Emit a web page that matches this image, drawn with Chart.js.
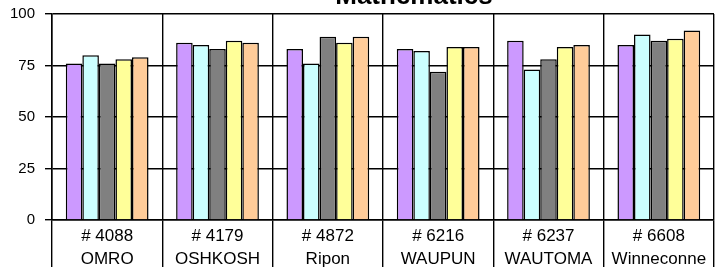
<!DOCTYPE html>
<html>
<head>
<meta charset="utf-8">
<script src="https://cdn.jsdelivr.net/npm/chart.js@4/dist/chart.umd.min.js"></script>
<style>
  html, body { margin: 0; padding: 0; background: #fff; }
  #wrap { width: 723px; height: 267px; }
</style>
</head>
<body>
<div id="wrap"><canvas id="mathChart"></canvas></div>
<script>
// data
const schools = [
    ['# 4088', 'OMRO'],
    ['# 4179', 'OSHKOSH'],
    ['# 4872', 'Ripon'],
    ['# 6216', 'WAUPUN'],
    ['# 6237', 'WAUTOMA'],
    ['# 6608', 'Winneconne']
];
const series1 = [76, 86, 83, 83, 87, 85];
const series2 = [80, 85, 76, 82, 73, 90];
const series3 = [76, 83, 89, 72, 78, 87];
const series4 = [78, 87, 86, 84, 84, 88];
const series5 = [79, 86, 89, 84, 85, 92];
const yTicks = [0, 25, 50, 75, 100];

const colors = ['#CC99FF', '#CCFFFF', '#808080', '#FFFF99', '#FFCC99'];
const allSeries = [series1, series2, series3, series4, series5];

// title sits partly above the canvas in the original
const titlePlugin = {
    id: 'cutTitle',
    afterDraw(chart) {
        const c = chart.ctx;
        c.save();
        c.font = 'bold 26px "Liberation Sans", Arial, sans-serif';
        c.fillStyle = '#000';
        c.textAlign = 'center';
        c.textBaseline = 'alphabetic';
        c.fillText('Mathematics', 414, 4);
        c.restore();
    }
};

const ctx = document.getElementById('mathChart').getContext('2d');
new Chart(ctx, {
    type: 'bar',
    data: {
        labels: schools,
        datasets: allSeries.map(function (vals, i) {
            return {
                label: 'Series ' + (i + 1),
                data: vals,
                backgroundColor: colors[i],
                borderColor: '#000',
                borderWidth: 1.5
            };
        })
    },
    options: {
        responsive: true,
        maintainAspectRatio: false,
        animation: false,
        datasets: {
            bar: {
                categoryPercentage: 0.75,
                barPercentage: 1.0,
                inflateAmount: 0
            }
        },
        layout: { padding: { top: 14, right: 9, left: 0, bottom: 0 } },
        plugins: {
            legend: { display: false },
            title: { display: false },
            tooltip: { enabled: false }
        },
        scales: {
            x: {
                grid: {
                    offset: true,
                    color: '#000',
                    lineWidth: 1.4,
                    tickLength: 47
                },
                border: { color: '#000', width: 1.5 },
                ticks: {
                    color: '#000',
                    padding: -42,
                    maxRotation: 0,
                    font: { family: '"Liberation Sans", Arial, sans-serif', size: 17, lineHeight: 1.35 }
                },
                afterFit(scale) {
                    scale.height = 47;
                    scale.paddingLeft = 0;
                    scale.paddingRight = 0;
                }
            },
            y: {
                min: 0,
                max: 100,
                afterBuildTicks(scale) {
                    scale.ticks = yTicks.map(v => ({ value: v }));
                },
                grid: {
                    color: '#000',
                    lineWidth: 1.4,
                    tickLength: 7
                },
                border: { color: '#000', width: 1.5 },
                ticks: {
                    color: '#000',
                    padding: 10,
                    font: { family: '"Liberation Sans", Arial, sans-serif', size: 15 }
                },
                afterFit(scale) {
                    scale.width = 52;
                    scale.paddingTop = 0;
                    scale.paddingBottom = 0;
                }
            }
        }
    },
    plugins: [titlePlugin]
});
</script>
</body>
</html>
